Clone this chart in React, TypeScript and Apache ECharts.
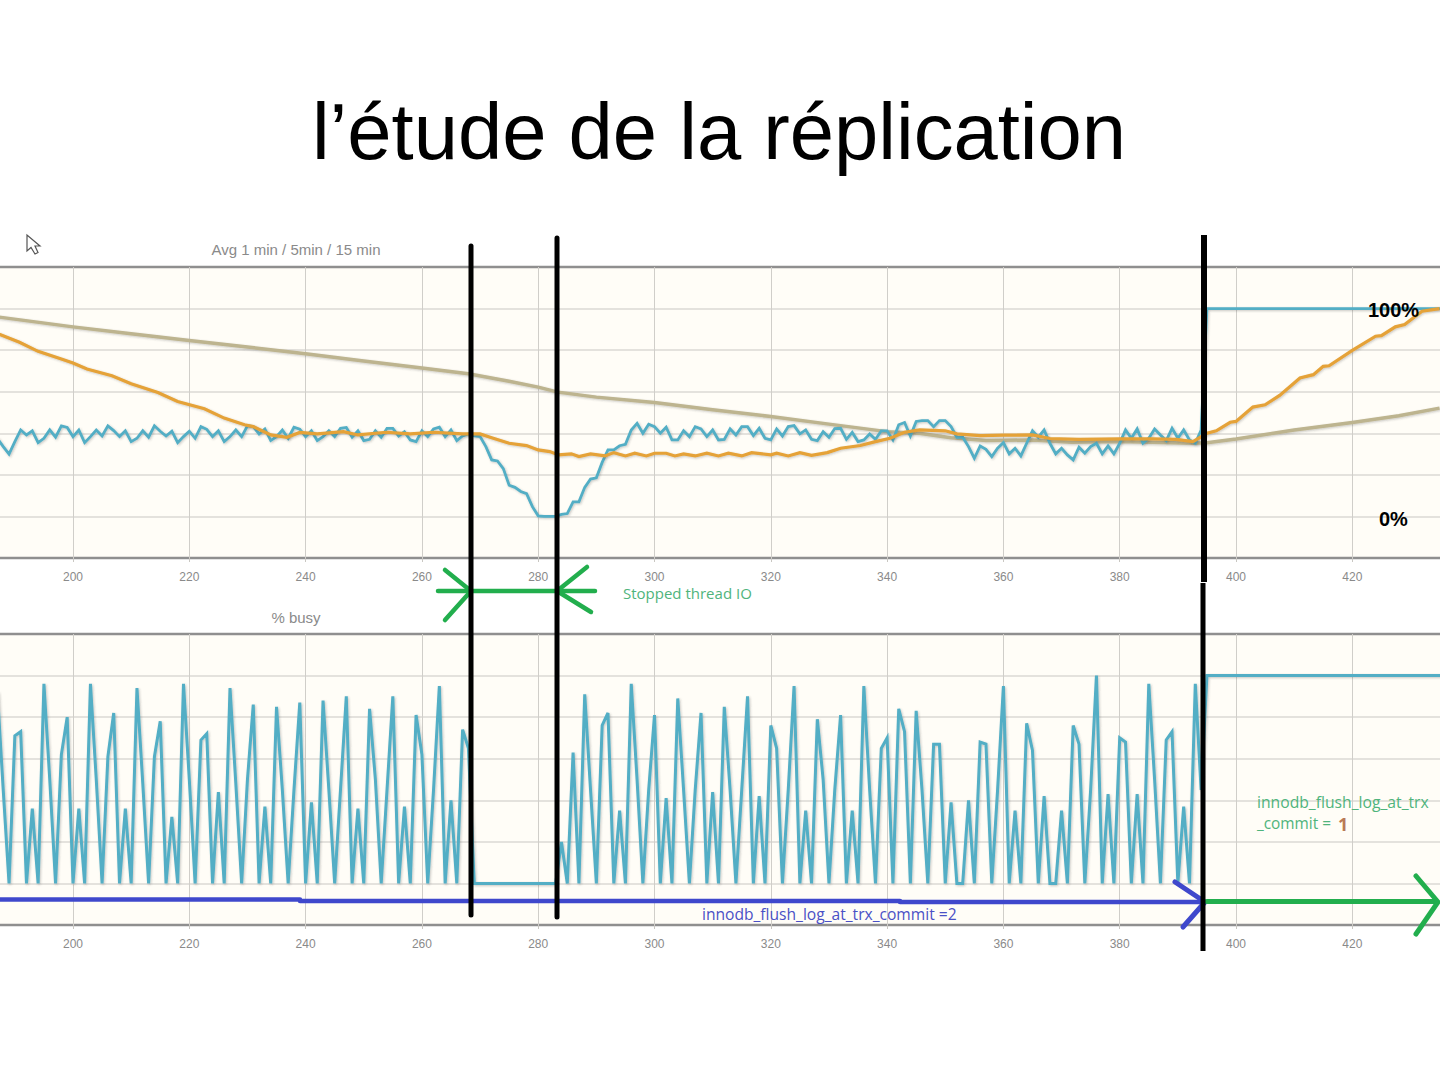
import React, { useEffect, useRef } from "react";
import * as echarts from "echarts";

const titleText = "l’étude de la réplication";
const topChartTitle = "Avg 1 min / 5min / 15 min";
const bottomChartTitle = "% busy";

const firstSample = 187;
// teal line of the top chart, one value per sample from x = 187
const avg1min = [
  37.5, 33.6, 30.0, 36.0, 41.6, 39.2, 41.2, 35.5, 37.6, 41.6, 38.1, 43.6, 42.8,
  38.4, 41.6, 35.5, 38.4, 41.6, 38.7, 43.6, 41.3, 38.4, 41.2,
  36.0, 37.6, 41.2, 38.1, 43.6, 41.0, 38.7, 41.0, 35.5, 38.4,
  41.0, 37.6, 43.2, 41.9, 38.4, 41.2, 36.0, 38.4, 41.6, 38.4,
  43.6, 43.2, 39.7, 42.1, 36.5, 38.4, 41.6, 37.6, 42.9, 42.0,
  38.4, 41.2, 36.5, 38.4, 41.2, 38.4, 42.4, 42.8, 38.1, 41.2,
  36.5, 37.1, 41.2, 38.1, 42.4, 42.4, 38.7, 40.8, 36.8, 36.0,
  41.2, 38.4, 42.1, 42.9, 38.4, 41.6, 36.5, 38.7, 39.7, 38.7,
  38.4, 33.6, 27.2, 26.7, 23.0, 15.0, 14.0, 12.0, 11.0, 4.7,
  0.3, 0, 0, 0, 1.0, 1.4, 7.0, 7.0, 14.0, 18.0,
  18.6, 26.0, 32.0, 32.0, 34.0, 34.7, 41.6, 44.8, 40.0, 44.4,
  43.2, 40.0, 42.9, 36.8, 36.8, 41.2, 38.4, 43.2, 42.1, 38.4,
  41.6, 36.8, 37.1, 42.1, 39.2, 43.2, 43.2, 38.9, 42.4, 37.6,
  36.8, 42.1, 38.7, 43.2, 43.7, 39.7, 41.6, 37.1, 36.5, 40.8,
  38.1, 42.3, 42.4, 37.1, 40.4, 36.0, 36.8, 39.7, 37.1, 41.2,
  41.2, 36.8, 44.1, 45.2, 38.7, 45.7, 46.1, 46.1, 43.2, 46.1,
  46.1, 43.2, 38.1, 38.1, 33.6, 28.0, 33.9, 32.3, 28.8, 32.8,
  35.5, 30.1, 32.8, 29.1, 35.2, 41.2, 38.1, 41.6, 35.2, 30.1,
  32.8, 29.6, 27.2, 33.3, 30.4, 33.6, 35.2, 30.1, 33.9, 30.1,
  35.2, 41.6, 37.6, 42.1, 35.2, 37.6, 42.1, 39.2, 36.5, 42.4,
  37.6, 41.6, 36.8, 35.2, 41.6,
  100, 100, 100, 100, 100,
  100, 100, 100, 100, 100, 100, 100, 100, 100, 100,
  100, 100, 100, 100, 100, 100, 100, 100, 100, 100,
  100, 100, 100, 100, 100, 100, 100, 100, 100, 100,
  100, 100, 100, 100, 100, 100, 100,
];

// teal line of the bottom chart, one value per sample from x = 187
const percentBusy = [
  92, 45, 0, 71, 73, 0, 36, 0, 96, 50, 0, 62, 80,
  0, 36, 0, 96, 50, 0, 61, 82, 0, 36,
  0, 94, 48, 0, 61, 78, 0, 32, 0, 96,
  50, 0, 69, 72, 0, 44, 0, 94, 48, 0,
  50, 86, 0, 37, 0, 85, 45, 0, 45, 87,
  0, 39, 0, 88, 45, 0, 45, 90, 0, 36,
  0, 84, 50, 0, 45, 90, 0, 37, 0, 81,
  62, 0, 45, 95, 0, 40, 0, 74, 65, 0,
  0, 0, 0, 0, 0, 0, 0, 0, 0, 0,
  0, 0, 0, 0, 20, 0, 63, 0, 91, 45,
  0, 76, 82, 0, 35, 0, 96, 50, 0, 45,
  81, 0, 41, 0, 89, 45, 0, 45, 82, 0,
  44, 0, 85, 45, 0, 45, 90, 0, 42, 0,
  76, 65, 0, 45, 95, 0, 35, 0, 79, 50,
  0, 45, 81, 0, 35, 0, 95, 45, 0, 65,
  70, 0, 84, 73, 0, 83, 45, 0, 67, 67,
  0, 39, 0, 0, 40, 0, 68, 67, 0, 45,
  95, 0, 35, 0, 77, 64, 0, 42, 0, 0,
  35, 0, 76, 67, 0, 45, 100, 0, 43, 0,
  70, 68, 0, 43, 0, 96, 50, 0, 69, 73,
  0, 37, 0, 96, 45,
  100, 100, 100, 100, 100,
  100, 100, 100, 100, 100, 100, 100, 100, 100, 100,
  100, 100, 100, 100, 100, 100, 100, 100, 100, 100,
  100, 100, 100, 100, 100, 100, 100, 100, 100, 100,
  100, 100, 100, 100, 100, 100, 100,
];

// orange line (5 min average)
const avg5minX = [
  187, 190.8, 194, 198, 200, 202.4, 206.7, 210, 214.6, 218, 222.6, 226, 229.5, 231, 234, 236.8, 239,
  242, 246.5, 249, 253.9, 258, 262, 267, 270, 272, 275, 278, 280, 282, 283.5, 285.7, 287, 289, 291.5,
  293, 295, 296.6, 298.6, 300, 302, 303.5, 305, 307, 309, 311, 312.7, 315, 316.7, 320, 321, 323, 325,
  327, 329.7, 332, 335.4, 338, 340.5, 343, 345.6, 350, 352, 356, 360, 365, 368, 373, 380, 385.7, 389.7,
  392.6, 395, 396.6, 399, 400, 402.9, 405, 407.5, 411, 413.3, 415, 416, 420, 424, 425, 427.4, 429, 432, 435,
];
const avg5minY = [
  88, 83.8, 79.4, 75.7, 73.8, 70.9, 67.7, 63.8, 59.6, 55.3, 51.8, 47.3, 44.1, 43.2, 39.2, 38.1, 40.4,
  39.7, 40.8, 39.2, 40.5, 39.7, 40.5, 39.7, 39.7, 37.9, 35.2, 34.1, 32.0, 31.2, 29.6, 30.1, 28.8, 30.1, 29.1,
  30.7, 29.1, 30.4, 29.1, 30.4, 30.4, 29.1, 30.1, 29.1, 30.4, 29.1, 30.4, 29.1, 30.7, 29.6, 30.4, 29.1, 30.7,
  29.4, 30.7, 32.8, 34.1, 36.0, 37.6, 40.5, 41.6, 41.2, 39.7, 38.9, 39.1, 39.2, 37.5, 37.1, 37.3, 37.3, 37.1,
  36.0, 40.0, 41.2, 45.3, 45.7, 52.6, 53.7, 58.2, 66.6, 68.2, 72.2, 72.5, 79.9, 86.7, 87.0, 91.2, 92.3, 98.7, 100,
];

// olive line (15 min average)
const avg15minX = [
  187, 200, 210, 220, 230, 240, 250, 260, 268, 275, 280, 283.4, 290, 300, 310, 320, 330, 340, 345.5,
  351, 357, 365, 371.7, 380, 392.6, 395, 400, 410, 420, 428, 435,
];
const avg15minY = [
  96.0, 91.2, 87.9, 84.6, 81.5, 78.3, 74.8, 71.4, 68.6, 65.0, 62.2, 59.8, 57.4, 54.8, 51.3, 48.1, 44.4, 40.8, 40.0,
  37.9, 36.5, 36.8, 35.7, 36.0, 35.2, 35.5, 37.3, 41.6, 45.2, 48.4, 52.1,
];

const FONT = "'Liberation Sans', Arial, sans-serif";
const HAND = "'Open Sans', sans-serif";
const CREAM = "#fffdf7";
const TEAL = "#52aec5";
const ORANGE = "#e5a237";
const OLIVE = "#bdb48f";
const GREEN = "#22ae4d";
const BLUE = "#3f48cc";
const lineShadow = { shadowColor: "rgba(60,60,60,0.28)", shadowBlur: 2, shadowOffsetX: 1, shadowOffsetY: 1 };

const bySample = (values: number[]) => values.map((v, i) => [firstSample + i, v]);
const zip = (xs: number[], ys: number[]) => xs.map((x, i) => [x, ys[i]]);

const stroke = (color: string, width: number) => ({
  stroke: color, lineWidth: width, lineCap: "round", lineJoin: "round", fill: "none",
});
const seg = (x1: number, y1: number, x2: number, y2: number, color: string, width: number) => ({
  type: "line", z: 100, shape: { x1, y1, x2, y2 }, style: stroke(color, width),
});
const poly = (points: number[][], color: string, width: number) => ({
  type: "polyline", z: 100, shape: { points }, style: stroke(color, width),
});
const label = (text: string, x: number, y: number, fill: string, fontSize: number, fontFamily: string, extra: any = {}) => ({
  type: "text", z: 101, x, y,
  style: { text, fill, fontSize, fontFamily, verticalAlign: "middle", align: "left", ...extra },
});

const xAxisFor = (gridIndex: number) => ({
  type: "value", gridIndex, min: 180, max: 440, interval: 20,
  axisLine: { show: true, onZero: false, lineStyle: { color: "#8f8f8f", width: 2.5, shadowColor: "rgba(0,0,0,0.3)", shadowBlur: 2, shadowOffsetY: 2 } },
  axisTick: { show: true, length: 4, lineStyle: { color: "#c9c7c2", width: 1 } },
  axisLabel: { color: "#8a8a8a", fontSize: 12, fontFamily: FONT, margin: 13, showMinLabel: false, showMaxLabel: false },
  splitLine: { show: true, showMinLine: false, showMaxLine: false, lineStyle: { color: "#d0cec9", width: 1 } },
});
const yAxisFor = (gridIndex: number) => ({
  type: "value", gridIndex, min: -20, max: 120, interval: 20,
  axisLine: { show: false }, axisTick: { show: false }, axisLabel: { show: false },
  splitLine: { show: true, showMinLine: false, showMaxLine: false, lineStyle: { color: "#dbd9d4", width: 1.5 } },
});
const gridFor = (top: number) => ({
  show: true, left: -43.3, width: 1511.9, top, height: 291, outerBoundsMode: "none", containLabel: false,
  backgroundColor: CREAM, borderColor: "#8f8f8f", borderWidth: 2.5,
});
const lineSeries = (name: string, data: number[][], color: string, width: number, idx: number, z: number) => ({
  name, type: "line", data, xAxisIndex: idx, yAxisIndex: idx, showSymbol: false, z,
  lineStyle: { color, width, join: "miter", ...lineShadow },
});

export default function App() {
  const ref = useRef<HTMLDivElement>(null);
  useEffect(() => {
    document.body.style.margin = "0";
    const chart = echarts.init(ref.current!, undefined, { renderer: "svg" });
    chart.setOption({
      animation: false,
      backgroundColor: "#ffffff",
      title: {
        text: titleText, left: 714, textAlign: "center", top: 86,
        textStyle: { fontFamily: FONT, fontSize: 79.6, fontWeight: "normal", color: "#000000" },
      },
      grid: [gridFor(267), gridFor(634)],
      xAxis: [xAxisFor(0), xAxisFor(1)],
      yAxis: [yAxisFor(0), yAxisFor(1)],
      series: [
        lineSeries("Avg 15 min", zip(avg15minX, avg15minY), OLIVE, 3.5, 0, 3),
        lineSeries("Avg 1 min", bySample(avg1min), TEAL, 2.8, 0, 4),
        lineSeries("Avg 5 min", zip(avg5minX, avg5minY), ORANGE, 3.2, 0, 5),
        lineSeries("% busy", bySample(percentBusy), TEAL, 3, 1, 4),
      ],
      graphic: [
        // mouse cursor
        {
          type: "polygon", z: 100,
          shape: { points: [[27, 235], [27, 251], [31, 247.5], [35, 254], [38, 252.5], [35, 246], [40, 246]] },
          style: { fill: "#ffffff", stroke: "#555555", lineWidth: 1.2 },
        },
        label(topChartTitle, 296, 249.5, "#8a8a8a", 15, FONT, { align: "center" }),
        label(bottomChartTitle, 296, 617.5, "#8a8a8a", 15, FONT, { align: "center" }),
        label("100%", 1368, 309.5, "#000000", 20, FONT, { fontWeight: "bold" }),
        label("0%", 1379, 518.5, "#000000", 20, FONT, { fontWeight: "bold" }),
        // blue baseline and arrow
        seg(0, 899.5, 300, 899.5, BLUE, 4.5),
        seg(300, 901, 900, 901, BLUE, 4.5),
        seg(900, 902, 1203, 902, BLUE, 4.5),
        poly([[1175, 882], [1205, 902], [1183, 927]], BLUE, 5),
        // green lower arrow
        seg(1207, 901.5, 1436, 901.5, GREEN, 5),
        poly([[1416, 876], [1438, 902], [1416, 934]], GREEN, 5),
        // green stopped arrow
        seg(438, 591, 595, 591, GREEN, 4.5),
        poly([[445, 570], [471, 591], [445, 620]], GREEN, 4.5),
        poly([[587, 567], [557, 591], [591, 612]], GREEN, 4.5),
        // black vertical markers
        seg(471, 246, 471, 915, "#000000", 5),
        seg(557, 238, 557, 917, "#000000", 5),
        { type: "line", z: 100, shape: { x1: 1204, y1: 235, x2: 1204, y2: 582 }, style: { stroke: "#000000", lineWidth: 6, fill: "none" } },
        { type: "line", z: 100, shape: { x1: 1203, y1: 583, x2: 1203, y2: 951 }, style: { stroke: "#000000", lineWidth: 5, fill: "none" } },
        // hand-written notes
        label("Stopped thread IO", 623, 593, "#4fb47c", 15, HAND),
        label("innodb_flush_log_at_trx_commit =2", 702, 913.5, "#4a50c6", 15.6, HAND),
        label("innodb_flush_log_at_trx", 1257, 802, "#4fb47c", 15.7, HAND),
        label("_commit =", 1257, 823, "#4fb47c", 15.4, HAND),
        label("1", 1338, 824, "#b97a57", 18, HAND, { fontWeight: "bold" }),
      ],
    });
    return () => chart.dispose();
  }, []);
  return <div ref={ref} style={{ width: 1440, height: 1080, position: "absolute", left: 0, top: 0 }} />;
}
